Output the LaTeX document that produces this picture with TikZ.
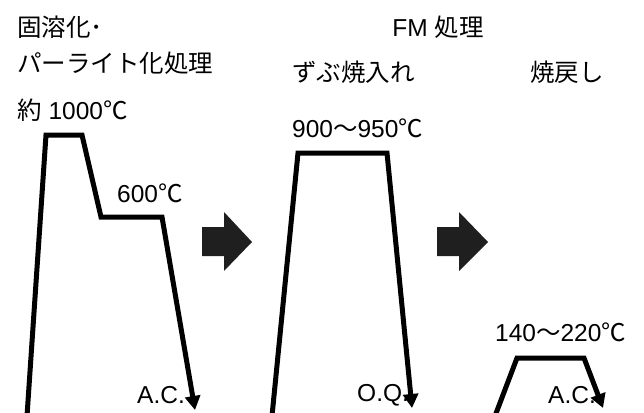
\documentclass[tikz,border=0pt]{standalone}
\usepackage{fontspec}
\newfontfamily\jpfont{Noto Sans CJK JP}
\newfontfamily\latfont{Liberation Sans}
\newcommand{\jp}[1]{{\jpfont #1}}
\usetikzlibrary{arrows.meta}
\tikzstyle{jp_text} = [
    font=\latfont\fontsize{24.5pt}{28pt}\selectfont, 
    anchor=west, 
    inner sep=0pt
]
\tikzstyle{heat_line} = [
    line width=5pt, 
    line join=miter, 
    -{Triangle[length=14pt, width=15pt]}
]
\tikzstyle{block_arrow} = [
    fill=black!88
]

\begin{document}
\begin{tikzpicture}[x=1pt, y=-1pt]
\useasboundingbox (0,0) rectangle (644,412);
% titles
\node [jp_text] (title_a) at (17,27) {\jp{固溶化･}};
\node [jp_text] (title_b) at (17,63) {\jp{パーライト化処理}};
\node [jp_text, anchor=center] (title_fm) at (438,27) {FM \jp{処理}};
\node [jp_text] (title_q) at (292,72) {\jp{ずぶ焼入れ}};
\node [jp_text] (title_t) at (530,72) {\jp{焼戻し}};
% temperatures
\node [jp_text] (temp_sol) at (17,110) {\jp{約} 1000\jp{℃}};
\node [jp_text] (temp_pea) at (117,193) {600\jp{℃}};
\node [jp_text] (temp_q) at (292,128) {900\jp{～}950\jp{℃}};
\node [jp_text] (temp_t) at (495,332) {140\jp{～}220\jp{℃}};
% cooling
\node [jp_text] (cool_a) at (137,395) {A.C.};
\node [jp_text] (cool_q) at (357,395) {O.Q.};
\node [jp_text] (cool_t) at (548,395) {A.C.};

% solution + pearlite
\coordinate (a0) at (27,416);
\coordinate (a1) at (46,135);
\coordinate (a2) at (82,135);
\coordinate (a3) at (101,217);
\coordinate (a4) at (162,217);
\coordinate (a5) at (195,410);
\draw [heat_line] (a0) -- (a1) -- (a2) -- (a3) -- (a4) -- (a5);
% quench
\coordinate (q0) at (272,416);
\coordinate (q1) at (298,153);
\coordinate (q2) at (387,153);
\coordinate (q3) at (412,408);
\draw [heat_line] (q0) -- (q1) -- (q2) -- (q3);
% temper
\coordinate (t0) at (495,416);
\coordinate (t1) at (517,358);
\coordinate (t2) at (584,358);
\coordinate (t3) at (603,408);
\draw [heat_line] (t0) -- (t1) -- (t2) -- (t3);

% step arrows
\fill [block_arrow] (202,227) -- (224,227) -- (224,212) -- (252,242) 
    -- (224,271) -- (224,256) -- (202,256) -- cycle;
\fill [block_arrow] (437,227) -- (459,227) -- (459,212) -- (488,242) 
    -- (459,271) -- (459,256) -- (437,256) -- cycle;
\end{tikzpicture}
\end{document}
